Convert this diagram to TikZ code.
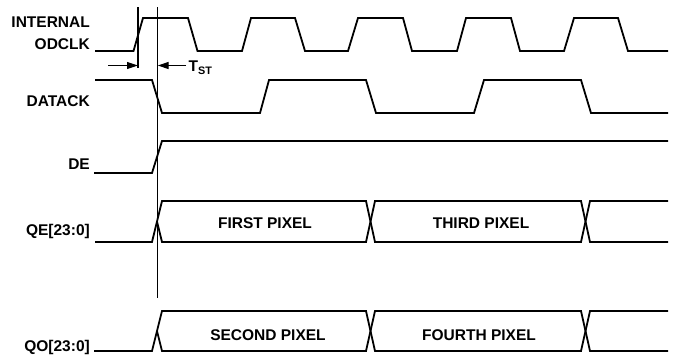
\documentclass[tikz,border=0pt]{standalone}
\usepackage{fontspec}
\setmainfont{Liberation Sans}
\usetikzlibrary{arrows.meta}
\begin{document}
\begin{tikzpicture}[x=1pt,y=-1pt,
  sig/.style={line width=1.8pt, line join=miter},
  marker/.style={line width=1.1pt},
  lbl/.style={font=\bfseries\fontsize{15.5}{18}\selectfont, inner sep=0pt, anchor=base east},
  datalbl/.style={font=\bfseries\fontsize{15.5}{18}\selectfont, inner sep=0pt, anchor=base},
  tiparrow/.style={-{Triangle[length=11pt,width=7pt]}, line width=1.1pt}]
\useasboundingbox (0,0) rectangle (674,356);
% labels
\node[lbl] (lint) at (90,27.3) {INTERNAL};
\node[lbl] (lclk) at (90,49) {ODCLK};
\node[lbl] (ldat) at (90,106.7) {DATACK};
\node[lbl] (lde) at (90,169) {DE};
\node[lbl] (lqe) at (90,235) {QE[23:0]};
\node[lbl] (lqo) at (90,351.5) {QO[23:0]};
% ODCLK
\draw[sig] (95,51) -- (133.5,51) -- (143,18) -- (188,18) -- (197.5,51) -- (242,51) -- (251,18) -- (295,18) -- (305,51) -- (348,51) -- (358,18) -- (403,18) -- (412,51) -- (457,51) -- (466,18) -- (511,18) -- (520,51) -- (564,51) -- (574,18) -- (618,18) -- (628,51) -- (668,51);
% DATACK
\draw[sig] (95,80) -- (152,80) -- (162,113) -- (260,113) -- (269,80) -- (366,80) -- (376,113) -- (474,113) -- (484,80) -- (581,80) -- (591,113) -- (668,113);
% DE
\draw[sig] (94,173) -- (152,173) -- (162,141) -- (668,141);
% QE
\draw[sig] (95,242) -- (152,242) -- (162,201) -- (366,201) -- (375,242) -- (581,242) -- (590,201) -- (668,201);
\draw[sig] (157,221.5) -- (162,242) -- (366,242) -- (375,201) -- (581,201) -- (590,242) -- (668,242);
% QO
\draw[sig] (94,351) -- (152,351) -- (162,311) -- (366,311) -- (375,351) -- (581,351) -- (590,311) -- (668,311);
\draw[sig] (157,331) -- (162,351) -- (366,351) -- (375,311) -- (581,311) -- (590,351) -- (668,351);
% data labels
\node[datalbl] (first) at (265,228.3) {FIRST PIXEL};
\node[datalbl] (third) at (481,228.3) {THIRD PIXEL};
\node[datalbl] (second) at (268,340) {SECOND PIXEL};
\node[datalbl] (fourth) at (479,340) {FOURTH PIXEL};
% timing markers
\coordinate (v1t) at (138,7);
\coordinate (v1b) at (138,68);
\coordinate (v2t) at (157.7,7);
\coordinate (v2b) at (157.7,298);
\draw[marker] (v1t) -- (v1b);
\draw[marker] (v2t) -- (v2b);
\coordinate (a1s) at (108,65.5);
\coordinate (a1e) at (138,65.5);
\coordinate (a2s) at (186,65.5);
\coordinate (a2e) at (157.7,65.5);
\draw[tiparrow] (a1s) -- (a1e);
\draw[tiparrow] (a2s) -- (a2e);
\node[font=\bfseries\fontsize{15.5}{18}\selectfont, inner sep=0pt, anchor=base west] (tst) at (188.5,71.5) {T\textsubscript{ST}};
\end{tikzpicture}
\end{document}
